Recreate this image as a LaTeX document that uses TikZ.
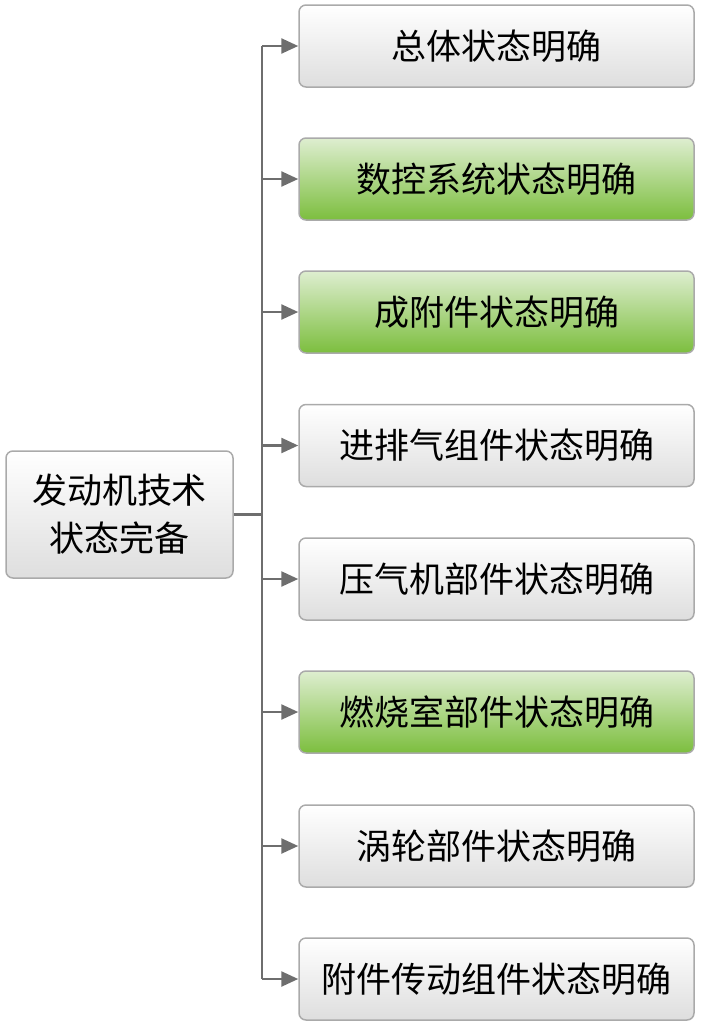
\documentclass[tikz,border=0pt]{standalone}
\usepackage{fontspec}
\newfontfamily\cjk{Noto Sans CJK SC}
\usetikzlibrary{arrows.meta}
\definecolor{bd}{RGB}{170,170,170}
\definecolor{gtop}{RGB}{222,238,208}
\definecolor{gbot}{RGB}{124,190,62}
\definecolor{wbot}{RGB}{222,222,222}
\definecolor{ln}{RGB}{110,110,110}
\tikzset{
 wbox/.style={draw=bd,line width=1.5pt,rounded corners=7pt,minimum width=395pt,minimum height=82pt,top color=white,bottom color=wbot,font=\cjk\fontsize{35}{40}\selectfont,inner sep=2pt},
 gbox/.style={wbox,top color=gtop,bottom color=gbot},
 conn/.style={ln,line width=2.5pt},
 arr/.style={conn,-{Triangle[length=17pt,width=15pt]}}
}
\begin{document}
\begin{tikzpicture}[x=1pt,y=-1pt]
\useasboundingbox (0,0) rectangle (703,1026);
\node[wbox,minimum width=227pt,minimum height=127pt,align=center,font=\cjk\fontsize{35}{48}\selectfont] (L) at (119.5,514.5) {发动机技术\\状态完备};
\node[wbox] (b1) at (496.5,46) {总体状态明确};
\node[gbox] (b2) at (496.5,179) {数控系统状态明确};
\node[gbox] (b3) at (496.5,312) {成附件状态明确};
\node[wbox] (b4) at (496.5,445.5) {进排气组件状态明确};
\node[wbox] (b5) at (496.5,579) {压气机部件状态明确};
\node[gbox] (b6) at (496.5,712) {燃烧室部件状态明确};
\node[wbox] (b7) at (496.5,846) {涡轮部件状态明确};
\node[wbox] (b8) at (496.5,979) {附件传动组件状态明确};
\coordinate (tj) at (262,514.5);
\draw[conn] (L.east) -- (tj);
\draw[conn] (262,46) -- (262,979);
\foreach \i in {1,...,8}{\draw[arr] (262,0 |- b\i.west) -- (b\i.west);}
\end{tikzpicture}
\end{document}
